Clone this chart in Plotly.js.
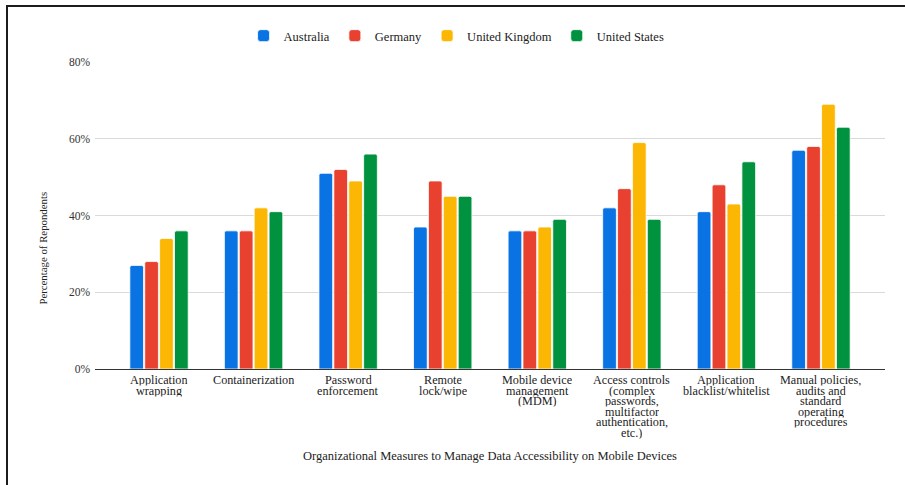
<!DOCTYPE html>
<html>
<head>
<meta charset="utf-8">
<script src="https://cdn.plot.ly/plotly-3.0.1.min.js"></script>
<style>
  html, body { margin: 0; padding: 0; background: #fff; }
  #chart { position: absolute; left: 0; top: 0; width: 905px; height: 485px; }
  #frame { position: absolute; left: 6px; top: 5px; width: 905px; height: 485px;
           border-top: 2px solid #1c1c1c; border-left: 2px solid #1c1c1c; pointer-events: none; }
</style>
</head>
<body>
<div id="chart"></div>
<div id="frame"></div>
<script>
// Organizational measures (category axis) and their multi-line labels
const categories = [
  "Application wrapping",
  "Containerization",
  "Password enforcement",
  "Remote lock/wipe",
  "Mobile device management (MDM)",
  "Access controls",
  "Application blacklist/whitelist",
  "Manual policies"
];
const categoryLabels = [
  ["Application", "wrapping"],
  ["Containerization"],
  ["Password", "enforcement"],
  ["Remote", "lock/wipe"],
  ["Mobile device", "management", "(MDM)"],
  ["Access controls", "(complex", "passwords,", "multifactor", "authentication,", "etc.)"],
  ["Application", "blacklist/whitelist"],
  ["Manual policies,", "audits and", "standard", "operating", "procedures"]
];

// Percentage of respondents per country
const seriesNames = ["Australia", "Germany", "United Kingdom", "United States"];
const australia     = [27, 36, 51, 37, 36, 42, 41, 57];
const germany       = [28, 36, 52, 49, 36, 47, 48, 58];
const unitedKingdom = [34, 42, 49, 45, 37, 59, 43, 69];
const unitedStates  = [36, 41, 56, 45, 39, 39, 54, 63];

const yTicks = [0, 20, 40, 60, 80];

const colors = ["#0a73e3", "#e8412f", "#fbb703", "#00923f"];
const values = [australia, germany, unitedKingdom, unitedStates];

const serif = "Liberation Serif, Times New Roman, serif";
const lineStep = 10.6;

const traces = values.map((v, i) => ({
  type: "bar",
  name: seriesNames[i],
  x: categories,
  y: v,
  marker: { color: colors[i], line: { color: "#ffffff", width: 0.8 }, cornerradius: 2 },
  hoverinfo: "x+y+name"
}));

// Tick labels drawn line by line for tight leading
const annotations = [];
categoryLabels.forEach((lines, c) => {
  lines.forEach((line, i) => {
    annotations.push({
      x: categories[c], y: 0, xref: "x", yref: "y",
      text: line, showarrow: false,
      xanchor: "center", yanchor: "top",
      height: lineStep, borderpad: 0, valign: "middle",
      yshift: -5 - i * lineStep,
      font: { family: serif, size: 12.2, color: "#222" }
    });
  });
});
// Axis titles
annotations.push({
  x: 0.5, y: -0.285, xref: "paper", yref: "paper",
  text: "Organizational Measures to Manage Data Accessibility on Mobile Devices",
  showarrow: false, xanchor: "center", yanchor: "middle",
  font: { family: serif, size: 12.5, color: "#222" }
});
annotations.push({
  x: -0.0655, y: 0.393, xref: "paper", yref: "paper",
  text: "Percentage of Repondents", textangle: -90,
  showarrow: false, xanchor: "center", yanchor: "middle",
  font: { family: serif, size: 10.8, color: "#222" }
});

const layout = {
  width: 905, height: 485,
  margin: { l: 95, r: 20, t: 62, b: 116 },
  paper_bgcolor: "#ffffff", plot_bgcolor: "#ffffff",
  font: { family: serif, size: 11, color: "#222" },
  barmode: "group",
  bargap: 0.37,
  bargroupgap: 0.08,
  showlegend: true,
  legend: {
    orientation: "h", x: 0.5045, xanchor: "center", xref: "container",
    y: 1 - 36 / 485, yref: "container", yanchor: "middle",
    font: { family: serif, size: 12.5, color: "#222" },
    tracegroupgap: 0
  },
  xaxis: {
    type: "category",
    range: [-0.677, 7.677],
    showticklabels: false,
    showgrid: false, zeroline: false,
    showline: true, linecolor: "#333", linewidth: 1,
    ticks: ""
  },
  yaxis: {
    range: [0, 80],
    tickvals: yTicks,
    ticktext: yTicks.map(t => t + "%"),
    showgrid: true, gridcolor: "#dadada", gridwidth: 1,
    zeroline: false, showline: false, ticks: "",
    tickfont: { family: serif, size: 11.5, color: "#333" },
    ticklabelstandoff: 4
  },
  annotations: annotations
};

Plotly.newPlot("chart", traces, layout, { displayModeBar: false, staticPlot: true });
</script>
</body>
</html>
